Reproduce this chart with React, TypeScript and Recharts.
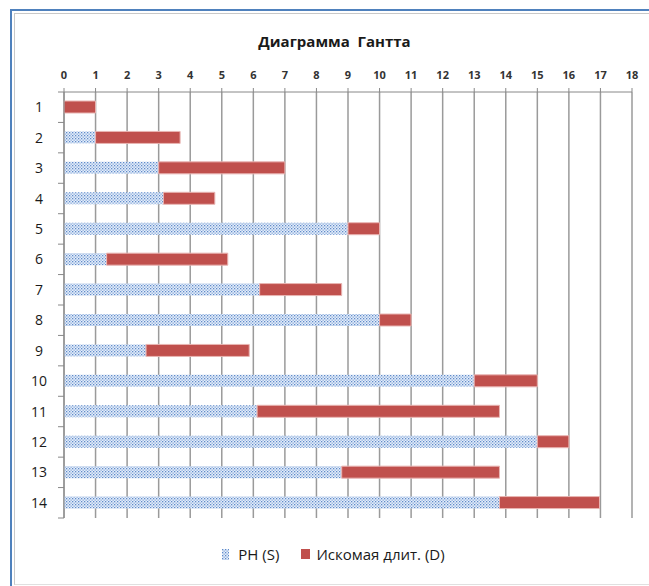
import React from 'react'
import { BarChart, Bar, XAxis, YAxis, CartesianGrid } from 'recharts'

// Диаграмма Ганта: начало работы (S) и длительность (D)
const tasks = ['1', '2', '3', '4', '5', '6', '7', '8', '9', '10', '11', '12', '13', '14']
const startS = [0, 1, 3, 3.15, 9, 1.35, 6.2, 10, 2.6, 13, 6.12, 15, 8.8, 13.8]
const durD = [1, 2.68, 4, 1.63, 1, 3.84, 2.6, 1, 3.27, 2, 7.68, 1, 5, 3.17]
const xTicks = [0, 1, 2, 3, 4, 5, 6, 7, 8, 9, 10, 11, 12, 13, 14, 15, 16, 17, 18]

const data = tasks.map((name, i) => ({ name, s: startS[i], d: durD[i] }))

const W = 649
const H = 586
const M = { top: 62, right: 17, bottom: 68, left: 34 }
const Y_W = 30
const plotTop = M.top + 30
const plotH = H - M.bottom - plotTop
const band = plotH / tasks.length
const axisX = M.left + Y_W

const font = '"Open Sans", "Noto Sans", sans-serif'
const red = '#C0504D'

const YTick = (props: any) => {
  const { y, payload, index } = props
  const last = index === tasks.length - 1
  return (
    <g>
      <text x={axisX - 25} y={y} dy={5} textAnchor="middle" fontSize={14} fill="#1a1a1a" fontFamily={font}>
        {payload.value}
      </text>
      <line x1={axisX - 6} x2={axisX} y1={y - band / 2} y2={y - band / 2} stroke="#888" />
      {last && <line x1={axisX - 6} x2={axisX} y1={y + band / 2} y2={y + band / 2} stroke="#888" />}
    </g>
  )
}

const DotPattern = ({ id }: { id: string }) => (
  <pattern id={id} width="3" height="3" patternUnits="userSpaceOnUse">
    <rect width="3" height="3" fill="#e6eef9" />
    <rect x="0" y="0" width="1.3" height="1.3" fill="#5f8bcb" />
    <rect x="1.5" y="1.5" width="1.3" height="1.3" fill="#86a9dc" />
  </pattern>
)

export default function App() {
  return (
    <div style={{ position: 'absolute', left: 0, top: 0, width: W, height: H, background: '#fff', fontFamily: font, overflow: 'hidden' }}>
      <div style={{ position: 'absolute', left: 10, top: 9, right: -10, bottom: -10, borderLeft: '2px solid #4f81bd', borderTop: '2px solid #4f81bd' }} />
      <div style={{ position: 'absolute', left: 14, top: 13, right: -10, bottom: 1, borderLeft: '1px solid #c8c8c8', borderTop: '1px solid #c8c8c8', borderBottom: '1px solid #e0e0e0' }} />
      <div style={{ position: 'absolute', top: 31, left: 0, width: W + 20, textAlign: 'center', fontSize: 15, fontWeight: 700, color: '#1a1a1a' }}>
        Диаграмма&nbsp; Гантта
      </div>
      <div style={{ position: 'absolute', left: 0, top: 0 }}>
        <BarChart width={W} height={H} data={data} layout="vertical" margin={M} barSize={12}>
          <defs>
            <DotPattern id="dots" />
          </defs>
          <CartesianGrid horizontal={false} stroke="#9a9a9a" strokeWidth={1.5} />
          <XAxis
            type="number"
            orientation="top"
            domain={[0, 18]}
            ticks={xTicks}
            interval={0}
            height={30}
            tickSize={4}
            tickMargin={9}
            stroke="#888"
            tick={{ fontSize: 11, fontWeight: 700, fill: '#333', fontFamily: font }}
          />
          <YAxis
            type="category"
            dataKey="name"
            width={Y_W}
            stroke="#888"
            tickLine={false}
            interval={0}
            tick={<YTick />}
          />
          <Bar dataKey="s" stackId="g" fill="url(#dots)" isAnimationActive={false} />
          <Bar dataKey="d" stackId="g" fill={red} stroke="#e9b5b3" strokeWidth={1} isAnimationActive={false} />
        </BarChart>
      </div>
      <div style={{ position: 'absolute', top: 544, left: 0, width: W, display: 'flex', justifyContent: 'center', alignItems: 'center', fontSize: 15, color: '#1a1a1a' }}>
        <span style={{ marginLeft: 18, display: 'inline-flex', alignItems: 'center' }}>
          <svg width={7} height={11}>
            <defs>
              <DotPattern id="dotsLegend" />
            </defs>
            <rect width={7} height={11} fill="url(#dotsLegend)" />
          </svg>
          <span style={{ marginLeft: 9 }}>PH (S)</span>
        </span>
        <span style={{ marginLeft: 22, display: 'inline-flex', alignItems: 'center' }}>
          <span style={{ display: 'inline-block', width: 9, height: 10, background: red }} />
          <span style={{ marginLeft: 6 }}>Искомая длит. (D)</span>
        </span>
      </div>
    </div>
  )
}
